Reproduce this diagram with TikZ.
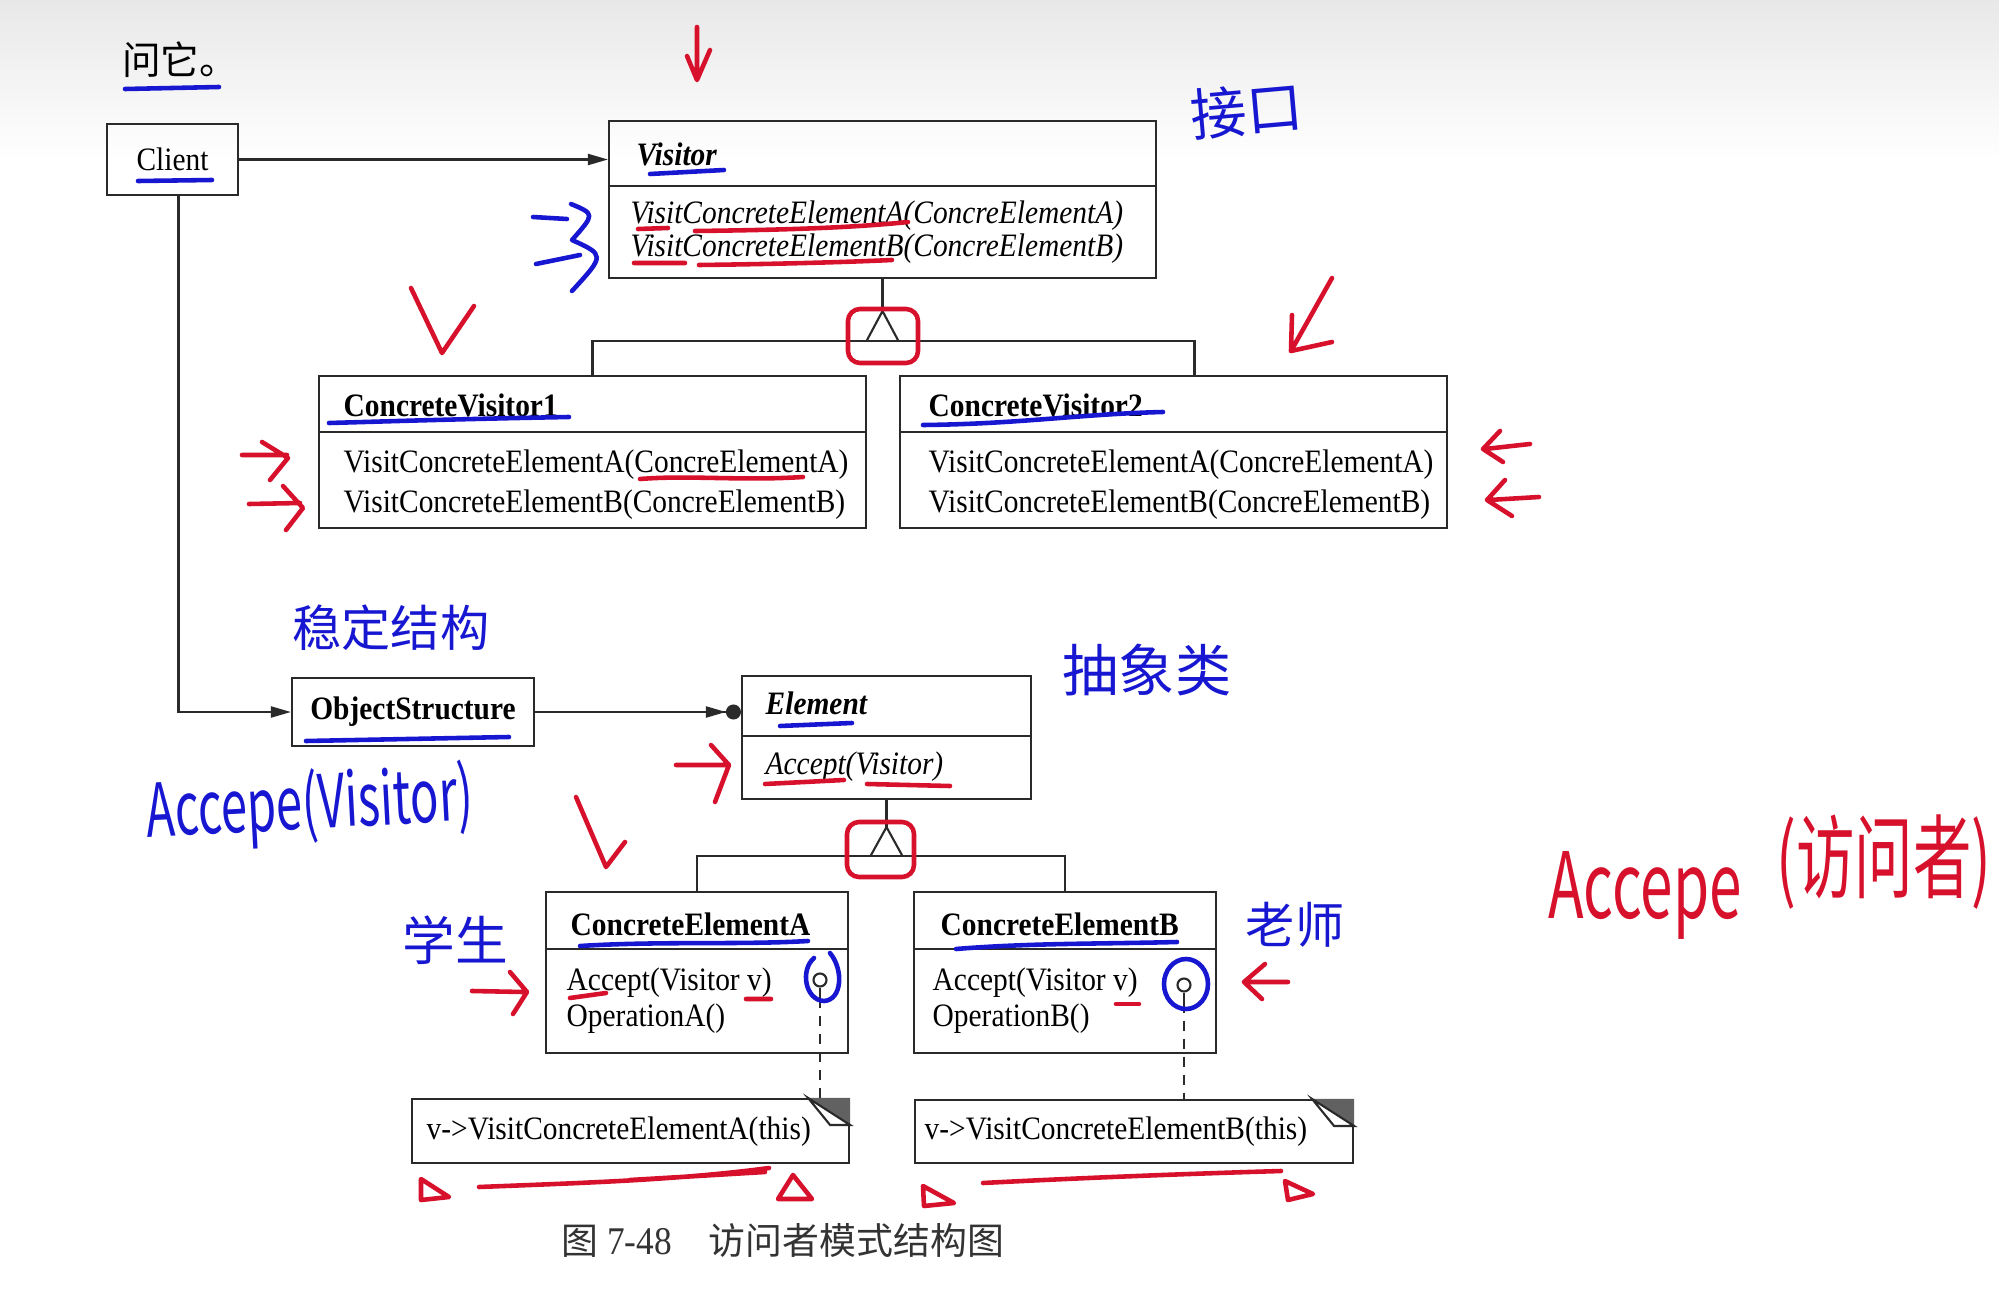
\documentclass[tikz,border=0pt]{standalone}
\usepackage{fontspec}
\setmainfont{Liberation Serif}[FakeStretch=0.9,Scale=0.93]
\newfontfamily\cjk{Noto Sans CJK SC}
\newfontfamily\hand{Noto Sans CJK SC}
\newfontfamily\handslim{Noto Sans CJK SC}[FakeStretch=0.64]
\usepackage{tikz}
\usetikzlibrary{arrows.meta,calc}
\definecolor{umlline}{HTML}{2A2A2A}
\definecolor{penred}{HTML}{D7102B}
\definecolor{penblue}{HTML}{1717D2}

\begin{document}
\begin{tikzpicture}[
    box/.style={draw=umlline, line width=0.6pt, inner sep=0pt},
    title/.style={font=\bfseries, anchor=west, inner sep=0pt},
    op/.style={anchor=west, inner sep=0pt},
    gen/.style={umlline, line width=0.6pt},
    assoc/.style={-{Triangle[length=2mm,width=1.1mm]}, umlline, line width=0.6pt},
    lolli/.style={circle, draw=umlline, line width=0.6pt, minimum size=1.3mm, inner sep=0pt},
    redpen/.style={penred, line width=1.3pt, line cap=round, line join=round},
    bluepen/.style={penblue, line width=1.3pt, line cap=round, line join=round},
    handtext/.style={inner sep=0pt, text=penblue},
  ]
  \useasboundingbox (0,0) rectangle (19.99,-12.99);
  \fill[white] (0,0) rectangle (19.99,-12.99);
  \shade[top color=black!9, bottom color=white] (0,0) rectangle (19.99,-1.6);

  \node[inner sep=0pt] (topnote) at (1.80,-0.60) {\cjk\fontsize{11pt}{13pt}\selectfont 问它。};

  % visitor hierarchy
  \node[box, minimum width=1.31cm, minimum height=0.71cm] (client) at (1.725,-1.595) {Client};
  \node[box, minimum width=5.47cm, minimum height=1.57cm] (visitor) at (8.825,-1.995) {};
  \node[title, font=\bfseries\itshape] (visitorname) at (6.36,-1.54) {Visitor};
  \node[op, font=\itshape] (visitorop1) at (6.30,-2.16) {VisitConcreteElementA(ConcreElementA)};
  \node[op, font=\itshape] (visitorop2) at (6.30,-2.49) {VisitConcreteElementB(ConcreElementB)};

  \node[box, minimum width=5.47cm, minimum height=1.52cm] (cv1) at (5.925,-4.52) {};
  \node[title] (cv1name) at (3.43,-4.05) {ConcreteVisitor1};
  \node[op] (cv1op1) at (3.43,-4.65) {VisitConcreteElementA(ConcreElementA)};
  \node[op] (cv1op2) at (3.43,-5.05) {VisitConcreteElementB(ConcreElementB)};

  \node[box, minimum width=5.47cm, minimum height=1.52cm] (cv2) at (11.735,-4.52) {};
  \node[title] (cv2name) at (9.28,-4.05) {ConcreteVisitor2};
  \node[op] (cv2op1) at (9.28,-4.65) {VisitConcreteElementA(ConcreElementA)};
  \node[op] (cv2op2) at (9.28,-5.05) {VisitConcreteElementB(ConcreElementB)};

  % element hierarchy
  \node[box, minimum width=2.42cm, minimum height=0.68cm, font=\bfseries] (objstruct) at (4.13,-7.12) {ObjectStructure};
  \node[box, minimum width=2.89cm, minimum height=1.23cm] (element) at (8.865,-7.375) {};
  \node[title, font=\bfseries\itshape] (elementname) at (7.65,-7.03) {Element};
  \node[op, font=\itshape] (elementop) at (7.65,-7.67) {Accept(Visitor)};

  \node[box, minimum width=3.02cm, minimum height=1.61cm] (cea) at (6.97,-9.725) {};
  \node[title] (ceaname) at (5.70,-9.24) {ConcreteElementA};
  \node[op] (ceaop1) at (5.66,-9.83) {Accept(Visitor v)};
  \node[op] (ceaop2) at (5.66,-10.19) {OperationA()};

  \node[box, minimum width=3.02cm, minimum height=1.61cm] (ceb) at (10.65,-9.725) {};
  \node[title] (cebname) at (9.40,-9.24) {ConcreteElementB};
  \node[op] (cebop1) at (9.32,-9.83) {Accept(Visitor v)};
  \node[op] (cebop2) at (9.32,-10.19) {OperationB()};

  \foreach \c/\d in {visitor/6.6, cv1/5.7, cv2/5.7, element/6.1, cea/5.8, ceb/5.8}
    \draw[gen] ([yshift=-\d mm]\c.north west) -- ([yshift=-\d mm]\c.north east);

  % notes
  \node[box, minimum width=4.37cm, minimum height=0.64cm] (notea) at (6.305,-11.31) {};
  \node[op] (noteatext) at (4.26,-11.32) {v->VisitConcreteElementA(this)};
  \node[box, minimum width=4.38cm, minimum height=0.63cm] (noteb) at (11.34,-11.315) {};
  \node[op] (notebtext) at (9.24,-11.32) {v->VisitConcreteElementB(this)};
  \foreach \n in {notea,noteb} {
    \fill[black!62] ([xshift=-4.2mm]\n.north east) -- (\n.north east) -- ([yshift=-2.7mm]\n.north east) -- cycle;
    \draw[gen, fill=white] ([xshift=-4.2mm]\n.north east) -- ([yshift=-2.7mm]\n.north east) -- ([xshift=-2.0mm,yshift=-2.7mm]\n.north east) -- cycle;
  }
  \node[lolli] (lolla) at (8.20,-9.80) {};
  \node[lolli] (lollb) at (11.84,-9.85) {};
  \draw[gen] (lolla.south) -- ++(0,-0.10) coordinate (stema);
  \draw[gen] (lollb.south) -- ++(0,-0.10) coordinate (stemb);
  \draw[gen, dash pattern=on 1mm off 0.8mm] (stema) -- (stema |- notea.north);
  \draw[gen, dash pattern=on 1mm off 0.8mm] (stemb) -- (stemb |- noteb.north);

  % connectors
  \draw[assoc] (client.east) -- (client.east -| visitor.west);
  \draw[assoc] ([xshift=0.6mm]client.south) |- (objstruct.west);
  \draw[-{Triangle[length=2mm,width=1.1mm] Circle[length=1.5mm]}, umlline, line width=0.6pt]
    (objstruct.east) -- (objstruct.east -| element.west);

  \draw[gen] (visitor.south) -- ++(0,-0.32) coordinate (vtop);
  \draw[gen] ($(vtop)+(-0.16,-0.30)$) -- (vtop) -- ($(vtop)+(0.16,-0.30)$);
  \draw[gen] (cv1.north) |- ($(vtop)+(0,-0.30)$) -| ([xshift=2.1mm]cv2.north);

  \draw[gen] (element.south) -- ++(0,-0.27) coordinate (etop);
  \draw[gen] ($(etop)+(-0.16,-0.29)$) -- (etop) -- ($(etop)+(0.16,-0.29)$);
  \draw[gen] (cea.north) |- ($(etop)+(0,-0.29)$) -| (ceb.north);

  \node[inner sep=0pt, text=black!80] (caption) at (7.83,-12.40)
    {\cjk\fontsize{10.5pt}{12pt}\selectfont 图 {\rmfamily\fontsize{12pt}{14pt}\selectfont 7-48}\quad 访问者模式结构图};

  % red pen
  \draw[redpen] (6.97,-0.27) -- (6.97,-0.79) (6.87,-0.56) -- (6.97,-0.80) -- (7.10,-0.50);
  \draw[redpen] (6.38,-2.29) -- (6.68,-2.28) (6.95,-2.31) .. controls (7.8,-2.30) and (8.5,-2.28) .. (9.08,-2.22);
  \draw[redpen] (6.34,-2.63) -- (6.85,-2.63) (6.99,-2.65) .. controls (7.8,-2.64) and (8.5,-2.62) .. (8.92,-2.60);
  \draw[redpen, rounded corners=1.2mm] (8.48,-3.09) rectangle (9.18,-3.63);
  \draw[redpen] (4.11,-2.88) -- (4.42,-3.53) -- (4.74,-3.06);
  \draw[redpen] (13.32,-2.78) -- (12.91,-3.51) -- (13.32,-3.42) (12.91,-3.51) -- (12.92,-3.15);
  \draw[redpen] (2.42,-4.55) -- (2.87,-4.55) (2.62,-4.42) -- (2.88,-4.58) -- (2.70,-4.80);
  \draw[redpen] (2.49,-5.04) -- (3.00,-5.03) (2.83,-4.86) -- (3.03,-5.08) -- (2.86,-5.30);
  \draw[redpen] (15.30,-4.44) -- (14.85,-4.49) (15.00,-4.31) -- (14.83,-4.49) -- (15.03,-4.62);
  \draw[redpen] (15.39,-4.97) -- (14.89,-5.00) (15.05,-4.80) -- (14.87,-5.00) -- (15.12,-5.16);
  \draw[redpen] (6.40,-4.79) .. controls (6.9,-4.75) and (7.4,-4.81) .. (8.03,-4.77);
  \draw[redpen] (6.76,-7.65) -- (7.27,-7.65) (7.11,-7.45) -- (7.29,-7.65) -- (7.15,-8.02);
  \draw[redpen] (7.65,-7.84) -- (8.44,-7.80) (8.67,-7.84) -- (9.50,-7.86);
  \draw[redpen, rounded corners=1.2mm] (8.47,-8.22) rectangle (9.14,-8.77);
  \draw[redpen] (5.76,-7.97) -- (6.06,-8.67) -- (6.25,-8.42);
  \draw[redpen] (4.72,-9.91) -- (5.23,-9.92) (5.10,-9.72) -- (5.27,-9.92) -- (5.13,-10.14);
  \draw[redpen] (5.70,-9.98) -- (6.06,-9.93) (7.46,-9.99) -- (7.71,-9.99);
  \draw[redpen] (12.88,-9.82) -- (12.47,-9.82) (12.65,-9.64) -- (12.44,-9.82) -- (12.62,-9.99);
  \draw[redpen] (11.16,-10.04) -- (11.39,-10.04);
  \draw[redpen] (4.79,-11.87) .. controls (5.8,-11.83) and (6.8,-11.80) .. (7.69,-11.68) (6.3,-11.80) -- (7.65,-11.72);
  \draw[redpen] (9.83,-11.83) .. controls (10.8,-11.78) and (11.8,-11.74) .. (12.81,-11.71);
  \draw[redpen] (4.21,-11.79) -- (4.21,-12.00) -- (4.49,-11.97) -- cycle;
  \draw[redpen] (7.93,-11.75) -- (7.78,-11.99) -- (8.12,-11.99) -- cycle;
  \draw[redpen] (9.23,-11.86) -- (9.24,-12.06) -- (9.54,-12.03) -- cycle;
  \draw[redpen] (12.85,-11.81) -- (12.88,-12.00) -- (13.13,-11.94) -- cycle;
  \node[handtext, text=penred, font=\handslim\fontsize{26pt}{28pt}\selectfont] (acceptred) at (16.45,-8.95) {Accepe};
  \node[handtext, text=penred, font=\handslim\fontsize{26pt}{28pt}\selectfont] (visitorword) at (18.84,-8.62) {(访问者)};

  % blue pen
  \draw[bluepen] (1.25,-0.89) -- (2.19,-0.87);
  \draw[bluepen] (1.38,-1.81) -- (2.12,-1.80);
  \draw[bluepen] (6.50,-1.74) -- (7.24,-1.70);
  \draw[bluepen] (3.29,-4.23) .. controls (4.0,-4.21) and (4.6,-4.19) .. (5.69,-4.17);
  \draw[bluepen] (9.23,-4.25) .. controls (10.2,-4.24) and (10.8,-4.14) .. (11.63,-4.12);
  \draw[bluepen] (3.06,-7.41) -- (5.09,-7.37);
  \draw[bluepen] (7.80,-7.26) -- (8.52,-7.23);
  \draw[bluepen] (5.80,-9.46) .. controls (6.6,-9.41) and (7.4,-9.45) .. (8.08,-9.41);
  \draw[bluepen] (9.56,-9.49) .. controls (10.3,-9.43) and (11.0,-9.44) .. (11.77,-9.42);
  \draw[bluepen] (5.33,-2.17) -- (5.67,-2.19) (5.36,-2.64) -- (5.80,-2.55);
  \draw[bluepen] (5.71,-2.04) .. controls (5.95,-2.14) .. (5.72,-2.40) .. controls (6.05,-2.55) .. (5.72,-2.91);
  \draw[bluepen] (8.14,-9.58) .. controls (8.00,-9.70) and (8.05,-10.00) .. (8.24,-10.01) .. controls (8.42,-10.00) and (8.44,-9.70) .. (8.30,-9.53);
  \draw[bluepen] (11.86,-9.84) ellipse (0.22 and 0.25);
  \node[handtext, rotate=5, font=\hand\fontsize{16pt}{18pt}\selectfont] (ifaceword) at (12.47,-1.10) {接口};
  \node[handtext, font=\hand\fontsize{14pt}{16pt}\selectfont] (stableword) at (3.91,-6.28) {稳定结构};
  \node[handtext, rotate=3, font=\handslim\fontsize{21pt}{24pt}\selectfont] (acceptword) at (3.10,-8.07)
    {Accepe(Visitor)};
  \node[handtext, font=\hand\fontsize{16pt}{19pt}\selectfont] (abstractword) at (11.47,-6.70) {抽象类};
  \node[handtext, font=\hand\fontsize{15pt}{17pt}\selectfont] (studentword) at (4.55,-9.40) {学生};
  \node[handtext, font=\hand\fontsize{14pt}{18pt}\selectfont] (teacherword) at (12.95,-9.25) {老师};
\end{tikzpicture}
\end{document}
